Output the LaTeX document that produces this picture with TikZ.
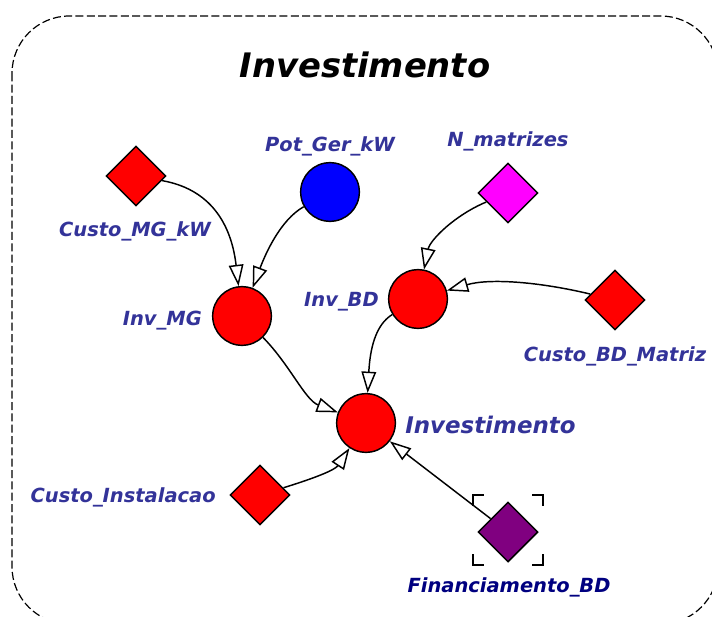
\documentclass[tikz,border=0pt]{standalone}
\usepackage{fontspec}
\setmainfont{DejaVu Sans}[ItalicFont={DejaVu Sans Oblique},BoldFont={DejaVu Sans Bold},BoldItalicFont={DejaVu Sans Bold Oblique}]
\usetikzlibrary{shapes.geometric,arrows.meta}
\definecolor{lbl}{RGB}{51,51,153}
\definecolor{navyc}{RGB}{0,0,128}
\definecolor{purp}{RGB}{128,0,128}
\definecolor{magc}{RGB}{255,0,255}
\definecolor{redc}{RGB}{255,0,0}
\definecolor{bluec}{RGB}{0,0,255}
\begin{document}
\begin{tikzpicture}[x=0.75pt,y=-0.75pt,
  circ/.style={circle, draw=black, line width=1.1pt, minimum size=44pt, inner sep=0pt},
  diam/.style={diamond, draw=black, line width=1.1pt, minimum size=45pt, inner sep=0pt, aspect=1},
  lab/.style={font=\fontsize{14.6}{16}\selectfont\bfseries\itshape, text=lbl, inner sep=0pt},
  link/.style={draw=black, line width=1.1pt, -{Triangle[open, length=16pt, width=11pt, fill=white]}},
  bracket/.style={draw=black, line width=1.1pt}
]
\useasboundingbox (0,0) rectangle (712,616);
\fill[white] (0,0) rectangle (712,616);
\begin{scope}
\clip (0,0) rectangle (712,616);
\draw[line width=0.9pt, dash pattern=on 6pt off 2.5pt, rounded corners=43pt] (12,16) rectangle (718,624);
\end{scope}

\node[anchor=base, font=\fontsize{25.3}{28}\selectfont\bfseries\itshape, inner sep=0pt] (title) at (365,78) {Investimento};

% nodes
\node[diam, fill=redc] (cmg) at (136,176) {};
\node[circ, fill=bluec] (pg) at (330,192) {};
\node[diam, fill=magc] (nm) at (508,193) {};
\node[circ, fill=redc] (img) at (242,316) {};
\node[circ, fill=redc] (ibd) at (418,299) {};
\node[diam, fill=redc] (cbd) at (615,300) {};
\node[circ, fill=redc] (inv) at (366,423) {};
\node[diam, fill=redc] (cin) at (260,495) {};
\node[diam, fill=purp] (fin) at (508,532) {};

% labels
\node[lab, anchor=base] (lcmg) at (135,237) {Custo\_MG\_kW};
\node[lab, anchor=base] (lpg) at (330,152) {Pot\_Ger\_kW};
\node[lab, anchor=base] (lnm) at (508,147) {N\_matrizes};
\node[lab, anchor=base east] (limg) at (202,325) {Inv\_MG};
\node[lab, anchor=base east] (libd) at (379,306) {Inv\_BD};
\node[lab, anchor=base] (lcbd) at (615,361) {Custo\_BD\_Matriz};
\node[lab, anchor=base west, font=\fontsize{17.2}{19}\selectfont\bfseries\itshape] (linv) at (405,433) {Investimento};
\node[lab, anchor=base east] (lcin) at (216,502) {Custo\_Instalacao};
\node[lab, anchor=base, text=navyc] (lfin) at (509,592) {Financiamento\_BD};

% brackets around Financiamento_BD
\draw[bracket] (473,506) -- (473,495) -- (484,495);
\draw[bracket] (532,495) -- (543,495) -- (543,506);
\draw[bracket] (473,554) -- (473,565) -- (484,565);
\draw[bracket] (532,565) -- (543,565) -- (543,554);

% connectors
\draw[link] (cmg) .. controls (215,190) and (232,230) .. (img);
\draw[link] (pg) .. controls (280,220) and (265,255) .. (img);
\draw[link] (nm) .. controls (455,215) and (430,240) .. (ibd);
\draw[link] (cbd) .. controls (540,282) and (490,278) .. (ibd);
\draw[link] (ibd) .. controls (375,325) and (370,350) .. (inv);
\draw[link] (img) .. controls (290,365) and (305,400) .. (inv);
\draw[link] (cin) .. controls (315,478) and (335,470) .. (inv);
\draw[link] (fin) -- (inv);
\end{tikzpicture}
\end{document}
